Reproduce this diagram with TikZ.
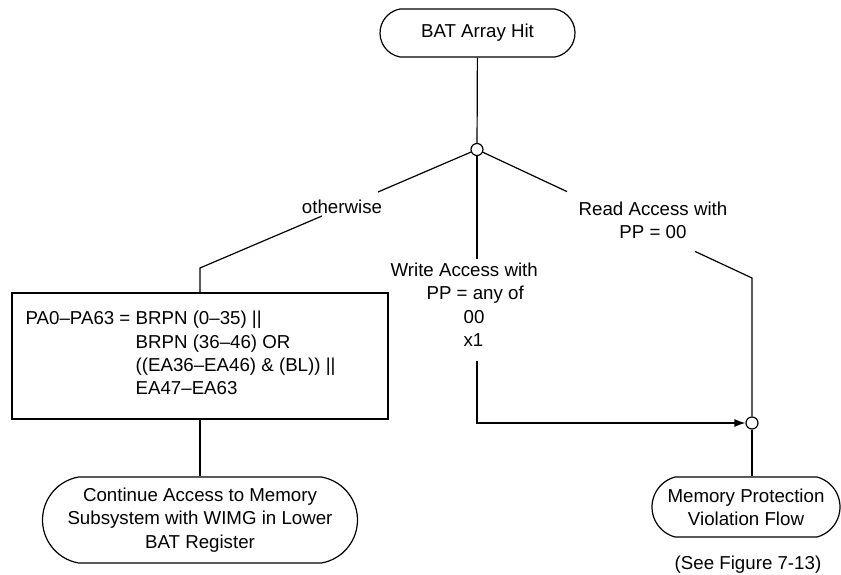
\documentclass[tikz,border=0pt]{standalone}
\usepackage{fontspec}
\setmainfont{Liberation Sans}
\usetikzlibrary{arrows.meta,shapes.misc}
\begin{document}
\begin{tikzpicture}[x=1pt,y=-1pt,line width=1.2pt,
  every node/.style={font=\fontsize{18.7}{23.3}\selectfont},
  term/.style={draw,rounded rectangle,inner sep=0pt,align=center},
  junction/.style={draw,circle,fill=white,minimum size=12pt,inner sep=0pt},
  lbl/.style={inner sep=0pt,align=center},
  arr/.style={-{Latex[length=11pt,width=8pt]}}]
\useasboundingbox (0,0) rectangle (841,575);
% terminals
\node[term,minimum width=195pt,minimum height=48pt,rounded rectangle arc length=160] (start) at (477.5,33) {BAT Array Hit};
\node[term,minimum width=315pt,minimum height=86pt,rounded rectangle arc length=160] (cont) at (200,520) {Continue Access to Memory\\Subsystem with WIMG in Lower\\BAT Register};
\node[term,minimum width=188pt,minimum height=60pt,rounded rectangle arc length=150] (viol) at (746,507) {Memory Protection\\Violation Flow};
\node[lbl] (see) at (748,565) {(See Figure 7-13)};
% junctions
\node[junction] (j1) at (477,149.5) {};
\node[junction] (j2) at (752,423) {};
% box
\node[draw,rectangle,minimum width=376pt,minimum height=126pt,inner sep=0pt] (box) at (200,356) {};
\node[inner sep=0pt,anchor=west] (boxtext) at (25,355) {\begin{tabular}{@{}l@{\ }l@{}}PA0–PA63 = & BRPN (0–35) ||\\ & BRPN (36–46) OR\\ & ((EA36–EA46) \& (BL)) ||\\ & EA47–EA63\end{tabular}};
% break coordinates
\coordinate (lA) at (378,192);
\coordinate (lB) at (322,216);
\coordinate (lC) at (200,268);
\coordinate (mA) at (477,259);
\coordinate (mB) at (477,361);
\coordinate (rA) at (567,191.6);
\coordinate (rB) at (695,251.4);
\coordinate (rC) at (752,278);
% labels
\node[lbl,anchor=base] (lother) at (342,213) {otherwise};
\node[inner sep=0pt,align=left,anchor=north west] (lwrite) at (390,262.5) {Write Access with\\\hspace*{36pt}PP = any of\\\hspace*{73pt}00\\\hspace*{73pt}x1};
\node[lbl,anchor=north] (lread) at (653,201) {Read Access with\\PP = 00};
% connectors
\draw (start) -- (j1);
\draw (j1) -- (lA);
\draw (lB) -- (lC) -- (box.north);
\draw (j1) -- (mA);
\draw[arr] (mB) |- (j2);
\draw (j1) -- (rA);
\draw (rB) -- (rC) -- (j2);
\draw (j2) -- (j2 |- viol.north);
\draw (box.south) -- (cont.north);
\end{tikzpicture}
\end{document}
